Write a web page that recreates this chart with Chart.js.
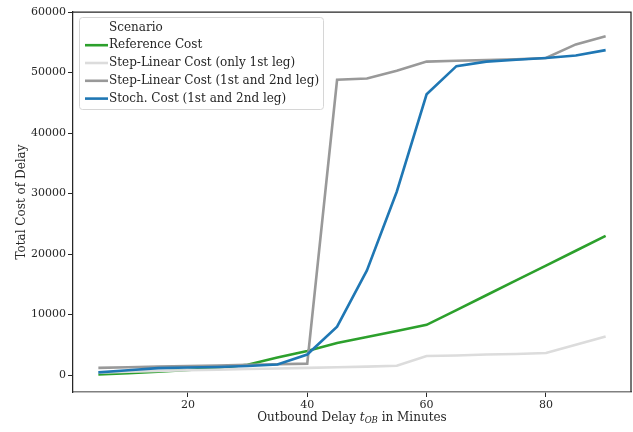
<!DOCTYPE html>
<html>
<head>
<meta charset="utf-8">
<script src="https://cdn.jsdelivr.net/npm/chart.js@4"></script>
<style>
  html, body { margin: 0; padding: 0; background: #fff; }
  #wrap { width: 633px; height: 432px; }
</style>
</head>
<body>
<div id="wrap"><canvas id="lineChart"></canvas></div>
<script>
// delay in minutes on the x axis
var minutes = [5, 10, 15, 20, 25, 30, 35, 40, 45, 50, 55, 60, 65, 70, 75, 80, 85, 90];

// total cost of delay per scenario
var referenceCost = [100, 300, 550, 850, 1200, 1700, 2900, 4000, 5300, 6300, 7300, 8300, 10750, 13200, 15650, 18100, 20550, 23000];
var stepLinearFirst = [400, 550, 700, 800, 900, 1000, 1100, 1200, 1300, 1400, 1550, 3150, 3250, 3400, 3500, 3650, 5000, 6400];
var stepLinearBoth = [1200, 1300, 1400, 1500, 1600, 1700, 1800, 1900, 48800, 49000, 50300, 51800, 51950, 52050, 52200, 52400, 54650, 56000];
var stochCost = [450, 800, 1150, 1250, 1350, 1500, 1750, 3400, 8000, 17300, 30300, 46400, 51050, 51800, 52100, 52400, 52800, 53700];

var xTicks = [20, 40, 60, 80];
var yTicks = [0, 10000, 20000, 30000, 40000, 50000, 60000];
var legendTitle = 'Scenario';

var FONT = 'DejaVu Serif';
var TEXT = '#262626';

function pts(ys) {
    return minutes.map(function (m, i) { return { x: m, y: ys[i] }; });
}

document.addEventListener("DOMContentLoaded", function () {
    var data = {
        datasets: [
            { label: 'Reference Cost', data: pts(referenceCost), borderColor: '#2ca02c', order: 3 },
            { label: 'Step-Linear Cost (only 1st leg)', data: pts(stepLinearFirst), borderColor: '#dcdcdc', order: 2 },
            { label: 'Step-Linear Cost (1st and 2nd leg)', data: pts(stepLinearBoth), borderColor: '#999999', order: 1 },
            { label: 'Stoch. Cost (1st and 2nd leg)', data: pts(stochCost), borderColor: '#1f77b4', order: 0 }
        ]
    };
    data.datasets.forEach(function (d) {
        d.borderWidth = 2.6;
        d.pointRadius = 0;
        d.fill = false;
        d.tension = 0;
    });

    // top/right spines, legend and axis titles
    var extras = {
        id: 'extras',
        afterDraw: function (chart) {
            var ctx = chart.ctx;
            var a = chart.chartArea;
            ctx.save();
            ctx.strokeStyle = TEXT;
            ctx.lineWidth = 1.25;
            ctx.beginPath();
            ctx.moveTo(a.left, a.top);
            ctx.lineTo(a.right, a.top);
            ctx.lineTo(a.right, a.bottom);
            ctx.stroke();

            // legend box
            var bx = 79.5, by = 17.5, bw = 244, bh = 92, r = 3;
            ctx.beginPath();
            ctx.moveTo(bx + r, by);
            ctx.arcTo(bx + bw, by, bx + bw, by + bh, r);
            ctx.arcTo(bx + bw, by + bh, bx, by + bh, r);
            ctx.arcTo(bx, by + bh, bx, by, r);
            ctx.arcTo(bx, by, bx + bw, by, r);
            ctx.closePath();
            ctx.fillStyle = 'rgba(255,255,255,0.8)';
            ctx.fill();
            ctx.strokeStyle = '#d6d6d6';
            ctx.lineWidth = 1;
            ctx.stroke();

            ctx.font = '12px "' + FONT + '"';
            ctx.fillStyle = TEXT;
            ctx.textBaseline = 'middle';
            ctx.textAlign = 'left';
            ctx.fillText(legendTitle, 109, 27.5);
            chart.data.datasets.forEach(function (d, i) {
                var y = 45.2 + i * 17.8;
                ctx.strokeStyle = d.borderColor;
                ctx.lineWidth = 2.6;
                ctx.beginPath();
                ctx.moveTo(85, y);
                ctx.lineTo(108, y);
                ctx.stroke();
                ctx.fillStyle = TEXT;
                ctx.fillText(d.label, 109, y);
            });

            // y title
            ctx.save();
            ctx.translate(22, (a.top + a.bottom) / 2);
            ctx.rotate(-Math.PI / 2);
            ctx.textAlign = 'center';
            ctx.fillText('Total Cost of Delay', 0, 0);
            ctx.restore();

            // x title with subscript
            var p1 = 'Outbound Delay ', p3 = ' in Minutes';
            var fN = '12px "' + FONT + '"', fI = 'italic 12px "' + FONT + '"', fS = 'italic 8.5px "' + FONT + '"';
            ctx.font = fN; var w1 = ctx.measureText(p1).width, w3 = ctx.measureText(p3).width;
            ctx.font = fI; var w2 = ctx.measureText('t').width;
            ctx.font = fS; var ws = ctx.measureText('OB').width;
            var total = w1 + w2 + ws + w3;
            var x = (a.left + a.right) / 2 - total / 2, yb = 418;
            ctx.textAlign = 'left';
            ctx.font = fN; ctx.fillText(p1, x, yb); x += w1;
            ctx.font = fI; ctx.fillText('t', x, yb); x += w2;
            ctx.font = fS; ctx.fillText('OB', x, yb + 3); x += ws;
            ctx.font = fN; ctx.fillText(p3, x, yb);
            ctx.restore();
        }
    };

    var options = {
        responsive: true,
        maintainAspectRatio: false,
        animation: false,
        layout: { padding: { top: 12, right: 2, left: 0, bottom: 0 } },
        plugins: { legend: { display: false }, tooltip: { enabled: false } },
        scales: {
            x: {
                type: 'linear',
                min: 0.75,
                max: 94.25,
                afterBuildTicks: function (s) { s.ticks = xTicks.map(function (v) { return { value: v }; }); },
                afterFit: function (s) { s.height = 40; },
                grid: { drawOnChartArea: false, drawTicks: true, tickLength: 5, color: TEXT },
                border: { display: true, color: '#808080', width: 1.5 },
                ticks: { color: TEXT, font: { family: FONT, size: 11 }, padding: 2, maxRotation: 0 }
            },
            y: {
                min: -2790,
                max: 60000,
                afterBuildTicks: function (s) { s.ticks = yTicks.map(function (v) { return { value: v }; }); },
                afterFit: function (s) { s.width = 73; },
                grid: { drawOnChartArea: false, drawTicks: true, tickLength: 5, color: TEXT },
                border: { display: true, color: TEXT, width: 1.25 },
                ticks: { color: TEXT, font: { family: FONT, size: 11 }, padding: 2, callback: function (v) { return String(v); } }
            }
        }
    };

    var ctx = document.getElementById('lineChart').getContext('2d');
    var lineChart = new Chart(ctx, {
        type: 'line',
        data: data,
        options: options,
        plugins: [extras]
    });
});
</script>
</body>
</html>
